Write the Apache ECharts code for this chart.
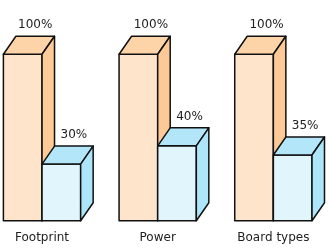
<!DOCTYPE html>
<html><head><meta charset="utf-8">
<script src="https://cdn.jsdelivr.net/npm/echarts@6/dist/echarts.min.js"></script>
<style>html,body{margin:0;padding:0;background:#fff}#c{width:330px;height:250px}</style>
</head><body><div id="c"></div>
<script>
// Data
const categories = ['Footprint', 'Power', 'Board types'];
const baseHeights = [100, 100, 100];          // drawn height of the left (orange) bars
const baseLabels = ['100%', '100%', '100%'];
const newHeights = [34, 45, 39.5];            // drawn height of the right (blue) bars
const newLabels = ['30%', '40%', '35%'];

const palettes = {
  base: { front: '#fee4ca', top: '#fdd3a8', side: '#fdca97' },
  next: { front: '#e1f5fd', top: '#b3e6f9', side: '#ade5fa' }
};
const DX = 12.5, DY = -18;
const STROKE = '#111';

function makeRender(pos, pal, labels) {
  return function (params, api) {
    const idx = api.value(0);
    const v = api.value(1);
    const base = api.coord([idx, 0]);
    const top = api.coord([idx, v]);
    const band = api.size([1, 0])[0];
    const w = band * 0.334;
    const x0 = pos === 0 ? base[0] - w : base[0];
    const yt = top[1], yb = base[1];
    const style = (fill) => ({ fill: fill, stroke: STROKE, lineWidth: 1.5, lineJoin: 'round' });
    return {
      type: 'group',
      children: [
        { type: 'polygon', shape: { points: [[x0, yt], [x0 + w, yt], [x0 + w, yb], [x0, yb]] }, style: style(pal.front) },
        { type: 'polygon', shape: { points: [[x0, yt], [x0 + DX, yt + DY], [x0 + w + DX, yt + DY], [x0 + w, yt]] }, style: style(pal.top) },
        { type: 'polygon', shape: { points: [[x0 + w, yt], [x0 + w + DX, yt + DY], [x0 + w + DX, yb + DY], [x0 + w, yb]] }, style: style(pal.side) },
        { type: 'text', style: { x: x0 + w / 2 + DX, y: yt + DY - 11, text: labels[params.dataIndex], fill: '#222', font: '12px "DejaVu Sans"', align: 'center', verticalAlign: 'middle' } }
      ]
    };
  };
}

const chart = echarts.init(document.getElementById('c'), null, { renderer: 'canvas' });
chart.setOption({
  animation: false,
  backgroundColor: '#fff',
  grid: { left: -15.8, right: -1.2, top: 54.3, bottom: 29.3, containLabel: false, outerBoundsMode: 'none' },
  xAxis: {
    type: 'category', data: categories,
    axisLine: { show: false }, axisTick: { show: false }, splitLine: { show: false },
    axisLabel: { fontFamily: 'DejaVu Sans', fontSize: 12, color: '#222', margin: 11 }
  },
  yAxis: { type: 'value', min: 0, max: 100, show: false },
  series: [
    { type: 'custom', clip: false, renderItem: makeRender(0, palettes.base, baseLabels),
      data: baseHeights.map((v, i) => [i, v]), z: 2 },
    { type: 'custom', clip: false, renderItem: makeRender(1, palettes.next, newLabels),
      data: newHeights.map((v, i) => [i, v]), z: 3 }
  ]
});
</script>
</body></html>
